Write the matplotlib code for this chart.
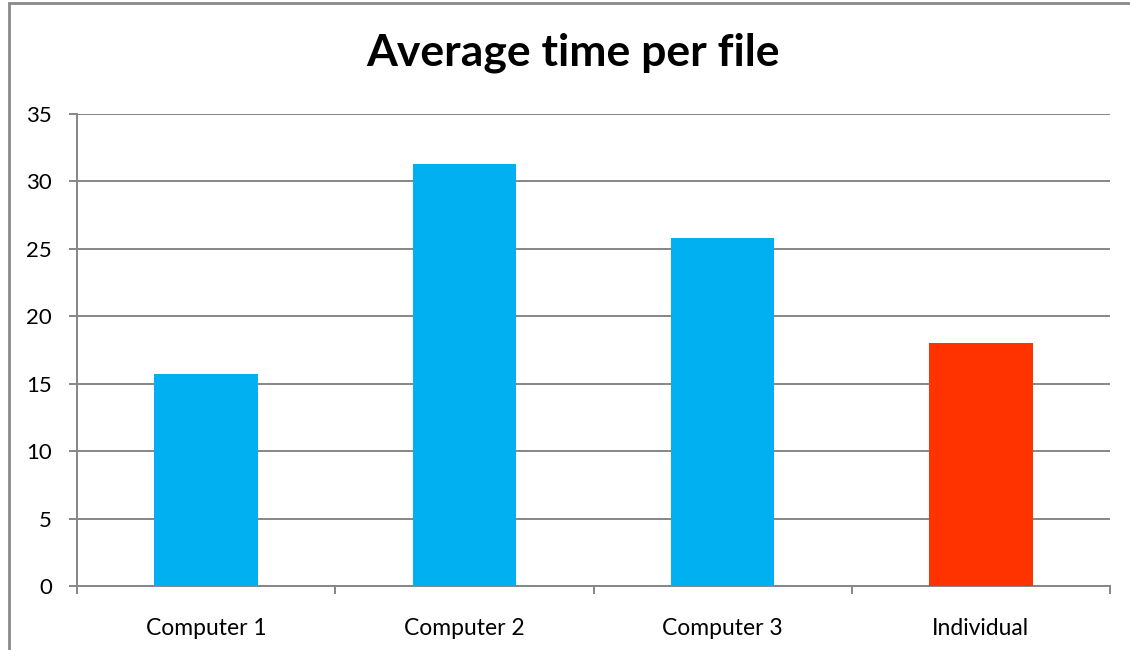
import matplotlib.pyplot as plt
from matplotlib.patches import Rectangle
import numpy as np

# data
categories = ['Computer 1', 'Computer 2', 'Computer 3', 'Individual']
avg_time = [15.7, 31.3, 25.8, 18.0]
bar_colors = ['#00B0F0', '#00B0F0', '#00B0F0', '#FF3300']
y_ticks = [0, 5, 10, 15, 20, 25, 30, 35]

plt.rcParams['font.family'] = ['Lato', 'DejaVu Sans']

fig = plt.figure(figsize=(11.3, 6.5), dpi=100)
ax = fig.add_axes([77 / 1130, 64 / 650, (1110 - 77) / 1130, (586 - 114) / 650])

x = np.arange(len(categories))
ax.bar(x, avg_time, width=0.4, color=bar_colors, zorder=3)

grid_c = '#868686'
ax.set_xlim(-0.5, len(categories) - 0.5)
ax.set_ylim(0, 35)
ax.set_yticks(y_ticks)
ax.set_yticklabels([str(v) for v in y_ticks], fontsize=16)
ax.yaxis.grid(True, color=grid_c, linewidth=1.4, zorder=0)

ax.set_xticks(x)
ax.set_xticklabels(categories, fontsize=16.5)
ax.set_xticks(np.arange(len(categories) + 1) - 0.5, minor=True)
ax.tick_params(axis='x', which='major', length=0, pad=23)
ax.tick_params(axis='x', which='minor', length=6, width=1.4, color=grid_c)
ax.tick_params(axis='y', length=6, width=1.4, color=grid_c, pad=12)

for s in ['top', 'right']:
    ax.spines[s].set_visible(False)
for s in ['left', 'bottom']:
    ax.spines[s].set_color(grid_c)
    ax.spines[s].set_linewidth(1.4)

fig.text(573 / 1130, 1 - 53 / 650, 'Average time per file', ha='center', va='center',
         fontsize=32, fontweight='bold')

# outer chart border (cropped on right and bottom)
fig.patches.append(Rectangle((9 / 1130, -0.1), 1.2, 1.1 - 3 / 650, transform=fig.transFigure,
                             fill=False, edgecolor='#8a8a8a', linewidth=2))

fig.savefig('out.png', dpi=100)
